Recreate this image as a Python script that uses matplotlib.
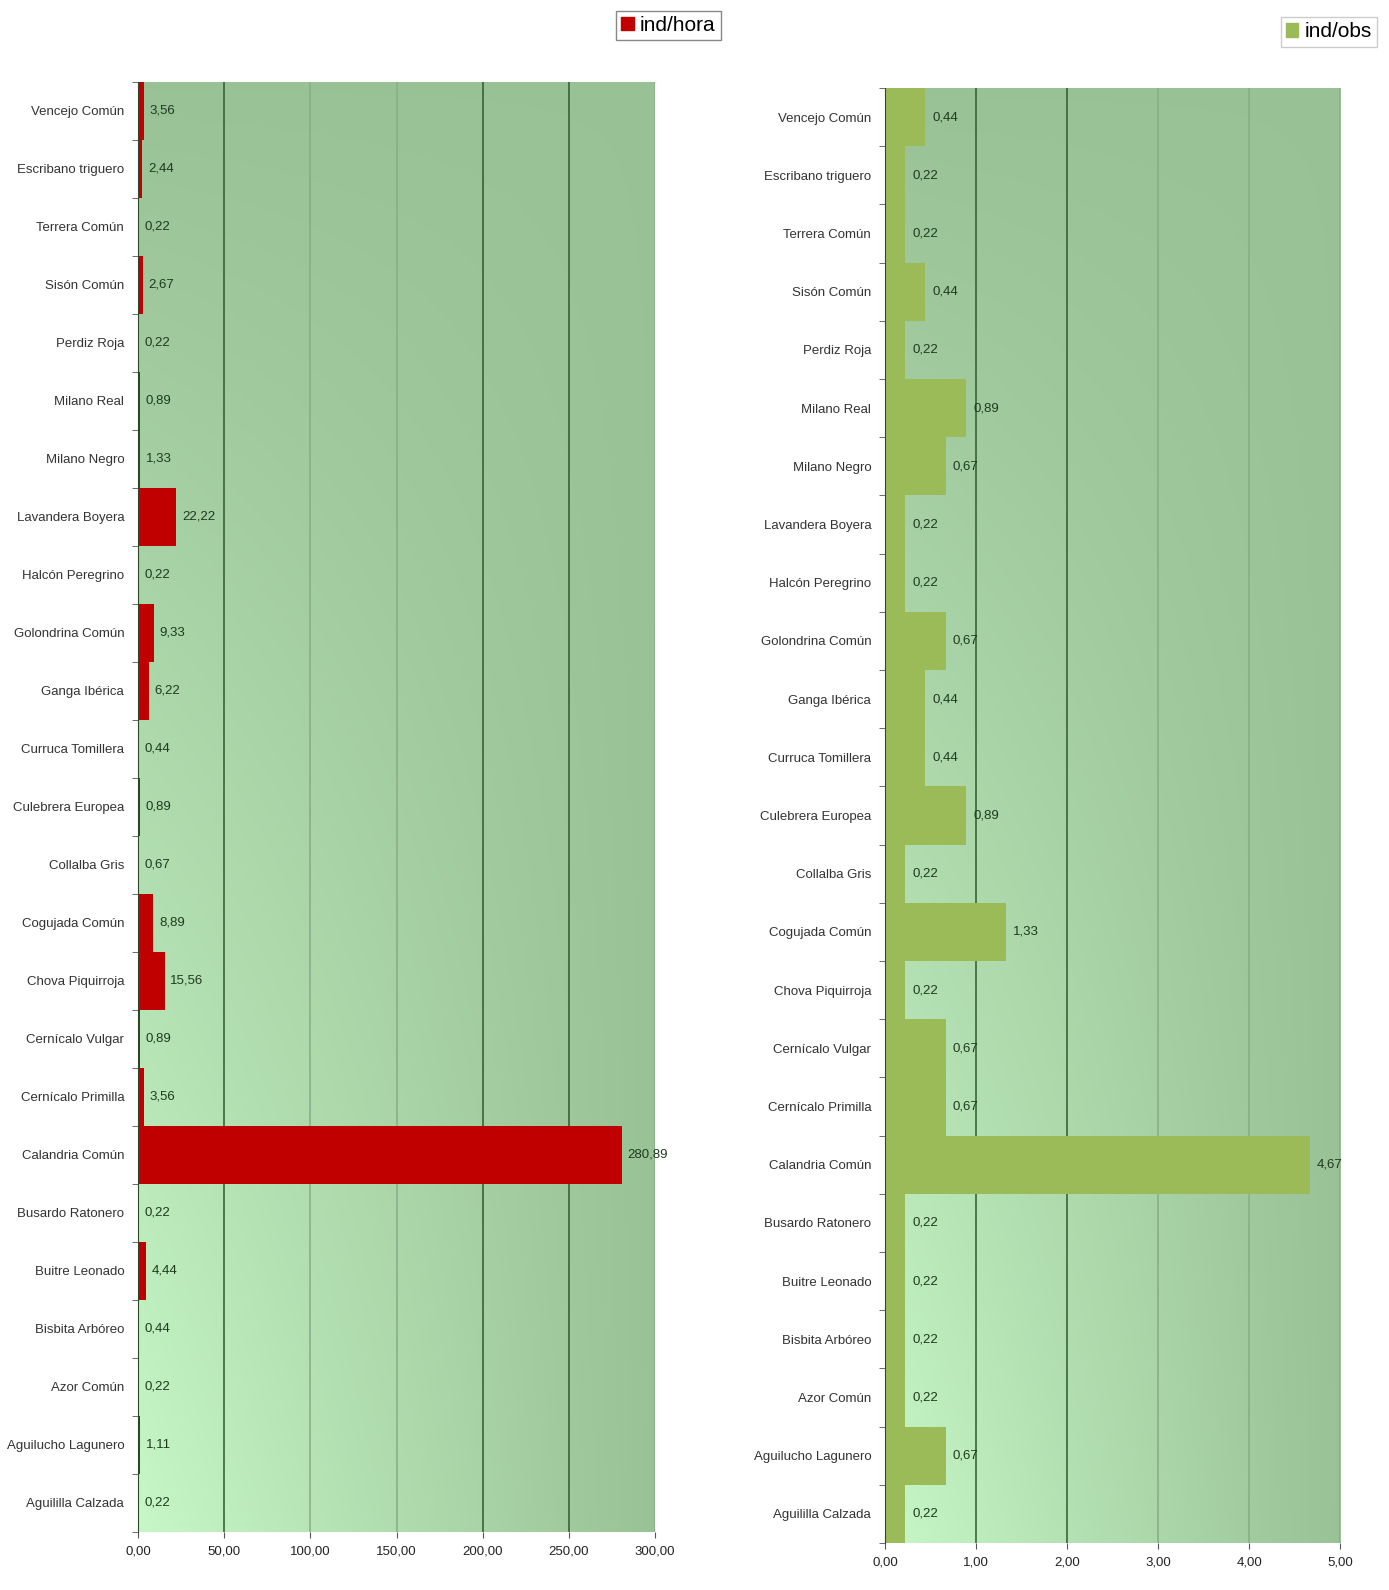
import matplotlib.pyplot as plt
import numpy as np
from matplotlib.patches import Patch

plt.rcParams['font.family'] = ['Liberation Sans', 'DejaVu Sans']

# species, top to bottom
species = ['Vencejo Común', 'Escribano triguero', 'Terrera Común', 'Sisón Común',
           'Perdiz Roja', 'Milano Real', 'Milano Negro', 'Lavandera Boyera',
           'Halcón Peregrino', 'Golondrina Común', 'Ganga Ibérica', 'Curruca Tomillera',
           'Culebrera Europea', 'Collalba Gris', 'Cogujada Común', 'Chova Piquirroja',
           'Cernícalo Vulgar', 'Cernícalo Primilla', 'Calandria Común', 'Busardo Ratonero',
           'Buitre Leonado', 'Bisbita Arbóreo', 'Azor Común', 'Aguilucho Lagunero',
           'Aguililla Calzada']

ind_hora = [3.56, 2.44, 0.22, 2.67, 0.22, 0.89, 1.33, 22.22, 0.22, 9.33, 6.22, 0.44,
            0.89, 0.67, 8.89, 15.56, 0.89, 3.56, 280.89, 0.22, 4.44, 0.44, 0.22, 1.11, 0.22]

ind_obs = [0.44, 0.22, 0.22, 0.44, 0.22, 0.89, 0.67, 0.22, 0.22, 0.67, 0.44, 0.44,
           0.89, 0.22, 1.33, 0.22, 0.67, 0.67, 4.67, 0.22, 0.22, 0.22, 0.22, 0.67, 0.22]

left_ticks = [0, 50, 100, 150, 200, 250, 300]
right_ticks = [0, 1, 2, 3, 4, 5]


def fmt(v):
    return f'{v:.2f}'.replace('.', ',')


def gradient_bg(ax):
    # light in the bottom-left corner, darker towards the top and right
    xx, yy = np.meshgrid(np.linspace(0, 1, 200), np.linspace(0, 1, 200))
    t = 1 - (1 - xx) * (1 - yy)
    light = np.array([0.78, 0.97, 0.78])
    dark = np.array([0.60, 0.76, 0.59])
    img = light[None, None, :] * (1 - t[..., None]) + dark[None, None, :] * t[..., None]
    ax.imshow(img, extent=[0, 1, 0, 1], transform=ax.transAxes, origin='lower',
              aspect='auto', zorder=0)


def draw_panel(ax, values, color, ticks, xmax, grid_dark, offset):
    y = np.arange(len(species))
    gradient_bg(ax)
    for t in ticks[1:]:
        c = '#2e5a2e' if t in grid_dark else '#86ad86'
        ax.axvline(t, color=c, lw=1.1, zorder=1)
    ax.barh(y, values, height=1.0, color=color, edgecolor='none', zorder=2)
    for yi, v in zip(y, values):
        ax.annotate(fmt(v), (v, yi), xytext=(offset, 0), textcoords='offset points',
                    va='center', ha='left', fontsize=9.5, color='#1f3a1f', zorder=3)
    ax.set_xlim(0, xmax)
    ax.set_ylim(len(species) - 0.5, -0.5)
    ax.set_xticks(ticks)
    ax.set_xticklabels([fmt(t) for t in ticks], fontsize=9.5, color='#222222')
    ax.set_yticks(y)
    ax.set_yticklabels(species, fontsize=9.5, color='#333333')
    ax.set_yticks(np.arange(len(species) + 1) - 0.5, minor=True)
    ax.tick_params(axis='y', which='major', length=0, pad=10)
    ax.tick_params(axis='y', which='minor', length=4, color='#555555')
    ax.tick_params(axis='x', length=4, color='#555555', pad=6)
    for s in ['top', 'right', 'bottom']:
        ax.spines[s].set_visible(False)
    ax.spines['left'].set_color('#2e4a2e')
    ax.spines['left'].set_zorder(4)


fig = plt.figure(figsize=(13.89, 15.90), dpi=100)

ax1 = fig.add_axes([0.0994, 0.0365, 0.3722, 0.912])
draw_panel(ax1, ind_hora, '#c00000', left_ticks, 300, [50, 200, 250], 4)

ax2 = fig.add_axes([0.6372, 0.0296, 0.3276, 0.915])
draw_panel(ax2, ind_obs, '#9bbb59', right_ticks, 5, [1, 2], 5)

fig.legend(handles=[Patch(color='#c00000', label='ind/hora')], loc='center right',
           bbox_to_anchor=(0.519, 0.984), fontsize=15, handlelength=0.6,
           handleheight=0.6, handletextpad=0.3, fancybox=False, edgecolor='#888888',
           borderpad=0.25, borderaxespad=0, framealpha=1)
fig.legend(handles=[Patch(color='#9bbb59', label='ind/obs')], loc='center left',
           bbox_to_anchor=(0.922, 0.980), fontsize=15, handlelength=0.6,
           handleheight=0.6, handletextpad=0.3, fancybox=False, edgecolor='#cccccc',
           borderpad=0.25, borderaxespad=0, framealpha=1)

fig.savefig('out.png', dpi=100)
